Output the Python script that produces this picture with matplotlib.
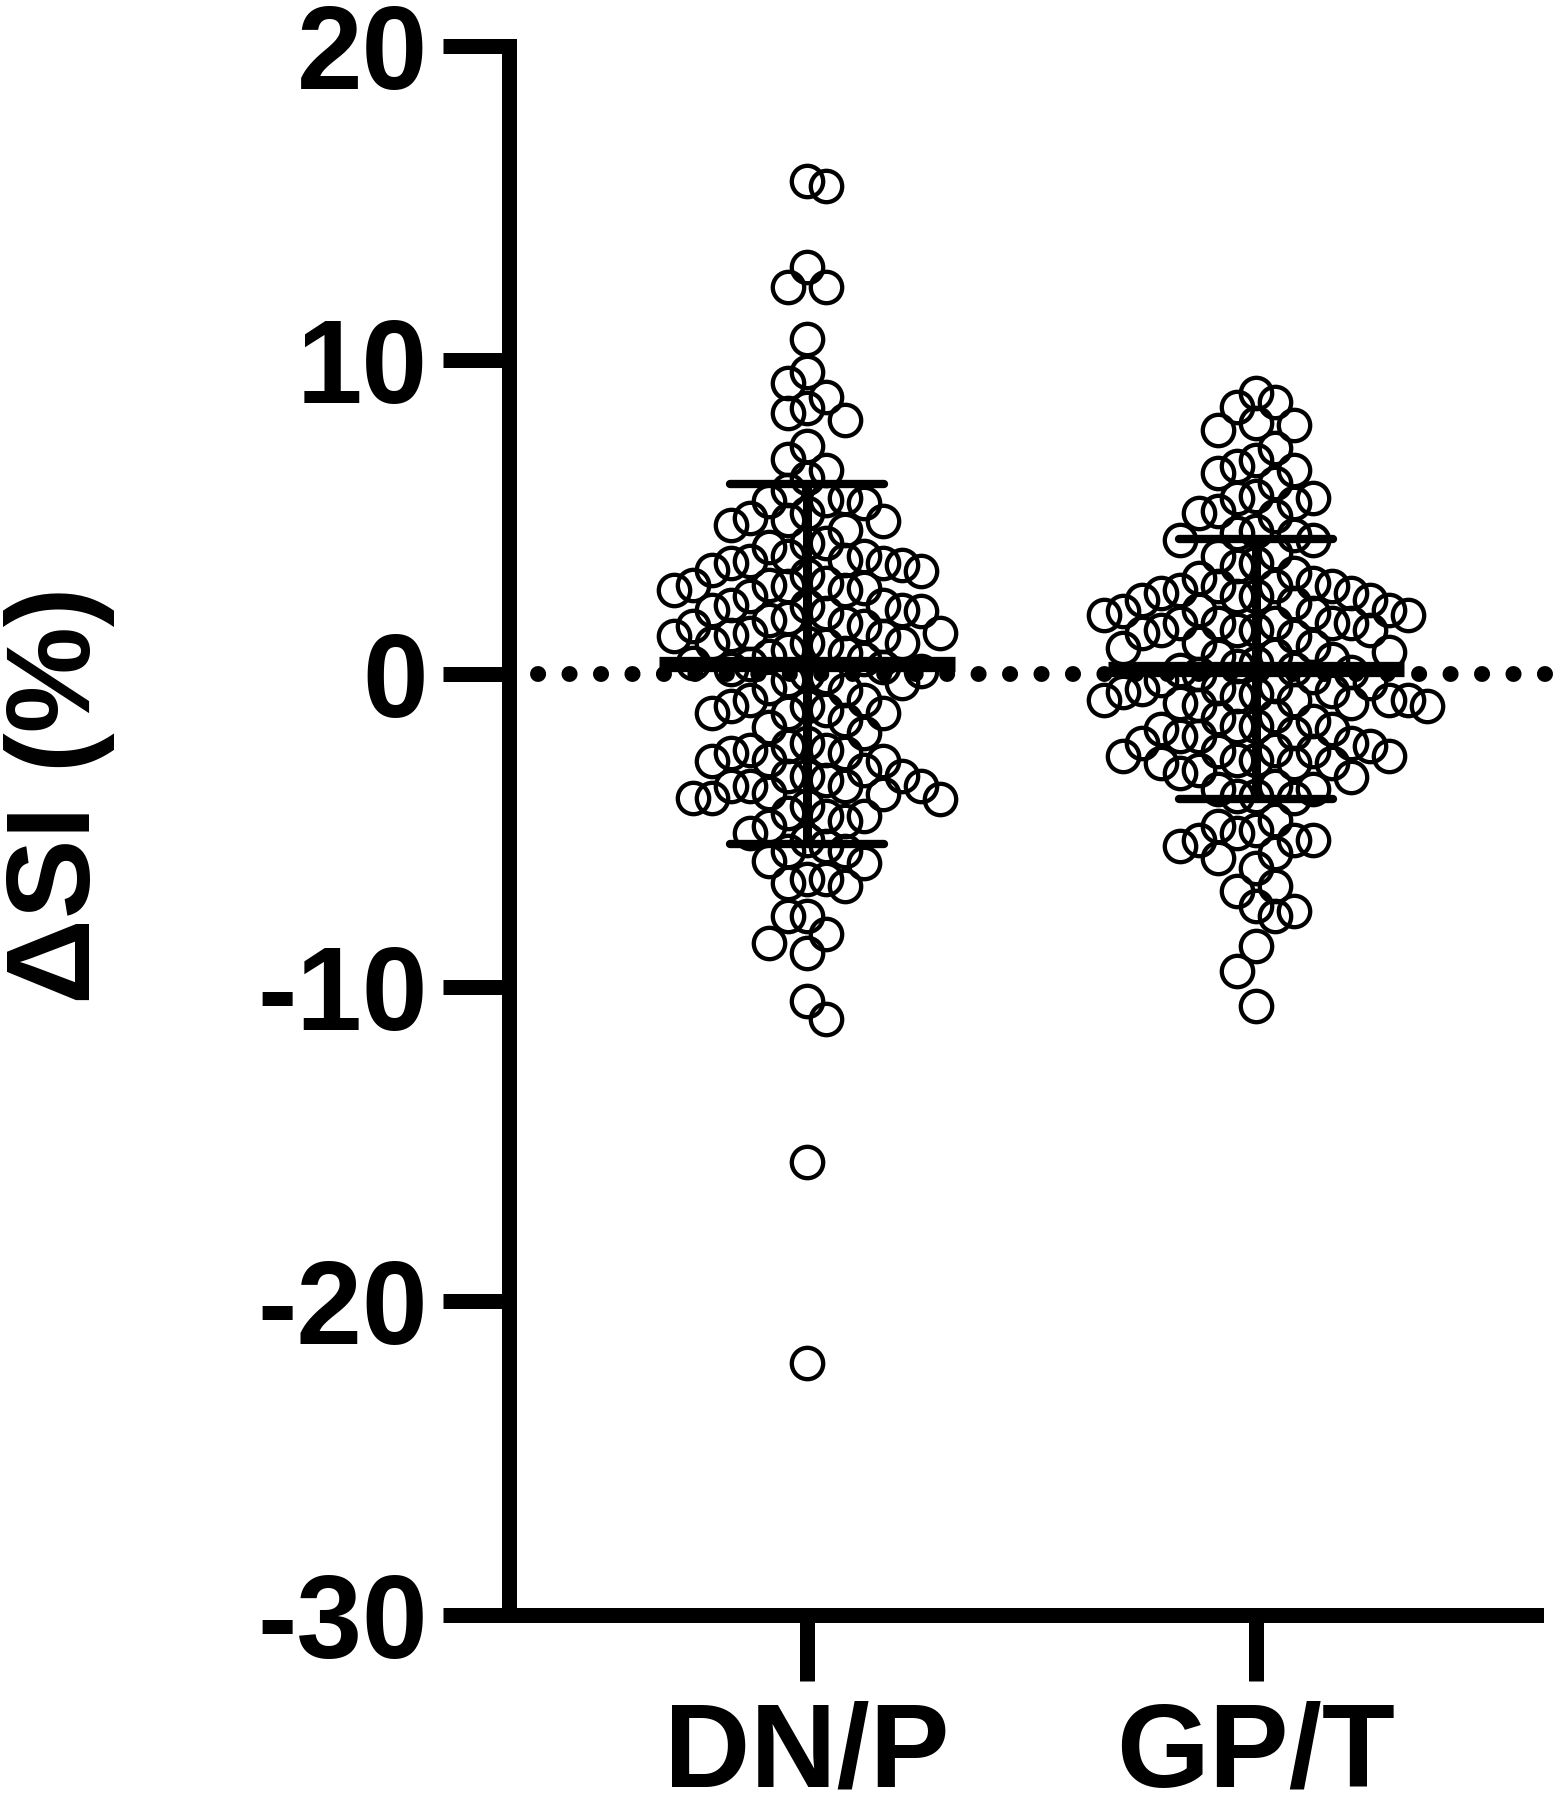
import numpy as np
import matplotlib
matplotlib.use('Agg')
import matplotlib.pyplot as plt

# ---------------- data ----------------
categories = ['DN/P', 'GP/T']

dnp_values = [
    15.70, 15.54, 12.97, 12.33, 12.31, 10.67, 9.60, 9.26, 8.80, 8.46, 8.30, 8.09,
    7.26, 6.85, 6.50, 6.23,
    5.86, 5.59, 5.54, 5.49, 5.44, 5.12, 4.96, 4.90, 4.85, 4.75, 4.59, 4.16, 4.16,
    4.05, 3.74, 3.74, 3.63, 3.58, 3.52, 3.52, 3.47, 3.31, 3.26, 3.15, 2.89, 2.83,
    2.83, 2.78, 2.73, 2.67, 2.67, 2.46, 2.20, 2.20, 2.14, 2.04, 2.04, 1.98, 1.93,
    1.77, 1.72, 1.61, 1.51, 1.51, 1.19,
    1.30, 1.30, 1.24, 1.19, 0.98, 0.98, 0.98, 0.90, 0.76, 0.65,
    0.55, 0.45, 0.35, 0.30, 0.22, 0.15, 0.08, 0.00, -0.10, -0.20, -0.30, -0.45,
    -0.51, -0.83, -0.83, -1.04, -1.04, -1.15, -1.25, -1.25, -1.25,
    -1.47, -1.70, -1.90,
    -2.21, -2.31, -2.42, -2.42, -2.53, -2.53, -2.74, -2.79, -2.79, -3.06, -3.27,
    -3.27, -3.27, -3.38, -3.59, -3.59, -3.59, -3.59,
    -3.80, -3.85, -3.96, -3.96, -4.01, -4.23, -4.44, -4.54, -4.54, -4.70, -4.86,
    -5.08, -5.29, -5.50, -5.66, -5.66, -5.98, -6.03, -6.56, -6.56, -6.67, -6.77,
    -7.73, -7.73, -8.31, -8.58, -8.90, -10.43, -11.02, -15.56, -21.97,
]

gpt_values = [
    8.94, 8.67, 8.51, 7.98, 7.93, 7.77, 7.19, 6.82, 6.60, 6.50, 6.39, 6.07, 5.65,
    5.59, 5.59, 5.44, 5.17, 5.12, 5.01, 4.53, 4.48, 4.43, 4.27, 4.27, 3.84, 3.74,
    3.52, 3.42, 3.21, 3.05, 2.89, 2.78, 2.78, 2.78, 2.68, 2.57, 2.57, 2.46, 2.46,
    2.36, 2.36, 2.25, 2.04, 2.04, 1.99, 1.93, 1.88, 1.88, 1.61, 1.61, 1.61, 1.61,
    1.61, 1.40, 1.40, 1.40, 1.40, 1.30, 1.19, 0.98, 0.87,
    0.80, 0.70, 0.60, 0.55, 0.45, 0.35, 0.25, 0.15, 0.10, 0.05, 0.00, -0.10,
    -0.20, -0.30, -0.40, -0.45, -0.50, -0.55, -0.60, -0.65,
    -0.72, -0.83, -0.83, -0.83, -0.83, -0.93, -0.93, -0.99, -1.04,
    -1.36, -1.41, -1.50, -1.68, -1.68, -1.78, -1.78, -1.89, -2.00, -2.00, -2.21,
    -2.21, -2.31, -2.42, -2.47, -2.47, -2.63, -2.63, -2.74, -2.74, -2.85, -2.85,
    -2.85, -3.06, -3.16, -3.30, -3.59, -3.69, -3.69, -3.91, -3.91, -3.96, -4.65,
    -4.86, -4.97, -5.07, -5.29, -5.29, -5.29, -5.50, -5.71, -5.87, -6.19, -6.77,
    -6.93, -7.41, -7.57, -7.73, -8.68, -9.48, -10.60,
]

group_means = [0.31, 0.145]
group_sds = [5.73, 4.155]
y_ticks = [-30, -20, -10, 0, 10, 20]
y_label = 'ΔSI (%)'

# ---------------- style ----------------
plt.rcParams['font.family'] = ['Liberation Sans', 'DejaVu Sans']
plt.rcParams['font.weight'] = 'bold'
plt.rcParams['axes.unicode_minus'] = False

W, H = 1556, 1800
fig = plt.figure(figsize=(W / 100, H / 100), dpi=100)
ax = fig.add_axes([509 / W, 1 - 1615 / H, (1536 - 509) / W, (1615 - 46) / H])
ax.set_xlim(-0.6637, 1.6236)
ax.set_ylim(-30, 20)


def swarm_positions(values, center, col_px=19.0, min_dy_px=30.0):
    """GraphPad-like column swarm computed in display space."""
    vals = np.asarray(values, float)
    trans = ax.transData
    ys = trans.transform(np.column_stack([np.full(len(vals), center), vals]))[:, 1]
    ppu = trans.transform((center + 1, 0))[0] - trans.transform((center, 0))[0]
    order = np.argsort(-ys)
    columns = {}
    offs = np.zeros(len(vals))
    flip = 1
    for i in order:
        y = ys[i]
        k = 0
        chosen = None
        while chosen is None:
            cands = [0] if k == 0 else [flip * k, -flip * k]
            for c in cands:
                if all(abs(y - yy) >= min_dy_px for yy in columns.get(c, [])):
                    chosen = c
                    break
            k += 1
        if chosen != 0:
            flip = -1 if chosen > 0 else 1
        columns.setdefault(chosen, []).append(y)
        offs[i] = chosen * col_px / ppu
    return center + offs


# dotted zero line
ax.plot([-0.60, 1.66], [0, 0], color='black', lw=11.5,
        linestyle=(0, (0.01, 1.96)), dash_capstyle='round', clip_on=False, zorder=1)

for i, vals in enumerate([dnp_values, gpt_values]):
    xs = swarm_positions(vals, i)
    ax.plot(xs, vals, linestyle='none', marker='o', ms=22.6, mfc='none',
            mec='black', mew=3.1, clip_on=False, zorder=2)
    m, s = group_means[i], group_sds[i]
    ax.plot([i - 0.33, i + 0.33], [m, m], color='black', lw=11,
            solid_capstyle='butt', zorder=3)
    ax.plot([i, i], [m - s, m + s], color='black', lw=6.5,
            solid_capstyle='butt', zorder=3)
    for yv in (m - s, m + s):
        ax.plot([i - 0.172, i + 0.172], [yv, yv], color='black', lw=6,
                solid_capstyle='round', zorder=3)

for side in ['top', 'right']:
    ax.spines[side].set_visible(False)
for side in ['left', 'bottom']:
    ax.spines[side].set_linewidth(10.8)
    ax.spines[side].set_capstyle('projecting')

ax.set_yticks(y_ticks)
ax.set_xticks(range(len(categories)))
ax.set_xticklabels(categories)
ax.tick_params(axis='both', length=47.5, width=10.8, direction='out', color='black')
ax.tick_params(axis='y', labelsize=85, pad=11)
ax.tick_params(axis='x', labelsize=86, pad=14)

fig.text(60 / W, 1 - 795 / H, y_label, rotation=90, ha='center', va='center',
         fontsize=86, fontweight='bold')

fig.savefig('out.png', dpi=100, facecolor='white')
